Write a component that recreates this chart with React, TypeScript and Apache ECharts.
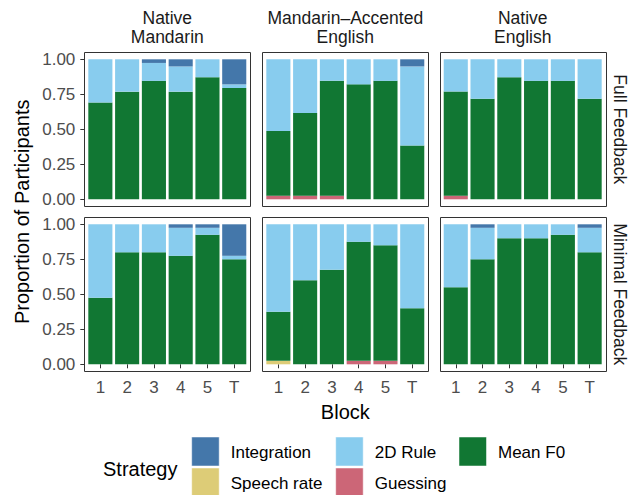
import React, { useEffect, useRef } from "react";
import * as echarts from "echarts";

const blocks = ["1", "2", "3", "4", "5", "T"];
const talkers = ["Native\nMandarin", "Mandarin\u2013Accented\nEnglish", "Native\nEnglish"];
const feedbackTypes = ["Full Feedback", "Minimal Feedback"];

// stack order from bottom to top
const strategies = ["Guessing", "Speech rate", "Mean F0", "2D Rule", "Integration"];
const strategyColors = ["#CC6677", "#DDCC77", "#117733", "#88CCEE", "#4477AA"];
// legend order (by row)
const legendOrder = ["Integration", "2D Rule", "Mean F0", "Speech rate", "Guessing"];

// Each array: [Native Mandarin, Mandarin-Accented English, Native English] x blocks
const guessingFull = [
  [0, 0, 0, 0, 0, 0],
  [0.026, 0.026, 0.026, 0, 0, 0],
  [0.026, 0, 0, 0, 0, 0],
];
const speechRateFull = [
  [0, 0, 0, 0, 0, 0],
  [0, 0, 0, 0, 0, 0],
  [0, 0, 0, 0, 0, 0],
];
const meanF0Full = [
  [0.692, 0.769, 0.846, 0.769, 0.872, 0.795],
  [0.462, 0.59, 0.821, 0.821, 0.846, 0.385],
  [0.744, 0.718, 0.872, 0.846, 0.846, 0.718],
];
const rule2DFull = [
  [0.308, 0.231, 0.128, 0.18, 0.128, 0.026],
  [0.512, 0.384, 0.153, 0.179, 0.154, 0.564],
  [0.23, 0.282, 0.128, 0.154, 0.154, 0.282],
];
const integrationFull = [
  [0, 0, 0.026, 0.051, 0, 0.179],
  [0, 0, 0, 0, 0, 0.051],
  [0, 0, 0, 0, 0, 0],
];

const guessingMinimal = [
  [0, 0, 0, 0, 0, 0],
  [0, 0, 0, 0.025, 0.025, 0],
  [0, 0, 0, 0, 0, 0],
];
const speechRateMinimal = [
  [0, 0, 0, 0, 0, 0],
  [0.025, 0, 0, 0, 0, 0],
  [0, 0, 0, 0, 0, 0],
];
const meanF0Minimal = [
  [0.475, 0.8, 0.8, 0.775, 0.925, 0.75],
  [0.35, 0.6, 0.675, 0.85, 0.825, 0.4],
  [0.55, 0.75, 0.9, 0.9, 0.925, 0.8],
];
const rule2DMinimal = [
  [0.525, 0.2, 0.2, 0.2, 0.05, 0.025],
  [0.625, 0.4, 0.325, 0.125, 0.15, 0.6],
  [0.45, 0.225, 0.1, 0.1, 0.075, 0.175],
];
const integrationMinimal = [
  [0, 0, 0, 0.025, 0.025, 0.225],
  [0, 0, 0, 0, 0, 0],
  [0, 0.025, 0, 0, 0, 0.025],
];

const dataFull = [guessingFull, speechRateFull, meanF0Full, rule2DFull, integrationFull];
const dataMinimal = [guessingMinimal, speechRateMinimal, meanF0Minimal, rule2DMinimal, integrationMinimal];

const FONT = "'Liberation Sans', Arial, Helvetica, sans-serif";

export default function App() {
  const ref = useRef<HTMLDivElement>(null);

  useEffect(() => {
    if (!ref.current) return;
    const chart = echarts.init(ref.current, null, { renderer: "svg" });

    const colLefts = [84.3, 262.3, 439.7];
    const rowTops = [52.3, 217.3];
    const panelW = 166;
    const panelH = 154;
    const unit = panelW / 6.2;
    const padX = 0.6 * unit - 0.5 * unit; // ggplot discrete expansion
    const padY = 7;

    const grids: any[] = [];
    const xAxes: any[] = [];
    const yAxes: any[] = [];
    const series: any[] = [];
    const graphics: any[] = [];

    for (let r = 0; r < 2; r++) {
      for (let c = 0; c < 3; c++) {
        const idx = r * 3 + c;
        const L = colLefts[c];
        const T = rowTops[r];
        grids.push({
          left: L + padX,
          top: T + padY,
          width: 6 * unit,
          height: panelH - 2 * padY,
          containLabel: false,
        });
        xAxes.push({
          type: "category",
          gridIndex: idx,
          data: blocks,
          boundaryGap: true,
          position: "bottom",
          offset: padY,
          axisLine: { show: false },
          axisTick: {
            show: r === 1,
            alignWithLabel: true,
            length: 4,
            lineStyle: { color: "#333333", width: 1 },
          },
          axisLabel: {
            show: r === 1,
            margin: 8,
            fontSize: 17,
            color: "#4D4D4D",
            fontFamily: FONT,
          },
          splitLine: { show: false },
        });
        yAxes.push({
          type: "value",
          gridIndex: idx,
          min: 0,
          max: 1,
          interval: 0.25,
          offset: padX,
          axisLine: { show: false },
          axisTick: {
            show: c === 0,
            length: 4,
            lineStyle: { color: "#333333", width: 1 },
          },
          axisLabel: {
            show: c === 0,
            margin: 9,
            fontSize: 17,
            color: "#4D4D4D",
            fontFamily: FONT,
            formatter: (v: number) => v.toFixed(2),
          },
          splitLine: { show: false },
        });
        const src = r === 0 ? dataFull : dataMinimal;
        strategies.forEach((s, si) => {
          series.push({
            type: "bar",
            name: s,
            xAxisIndex: idx,
            yAxisIndex: idx,
            stack: "p" + idx,
            barWidth: "90%",
            data: src[si][c],
            itemStyle: { color: strategyColors[si] },
            emphasis: { disabled: true },
          });
        });
        graphics.push({
          type: "rect",
          shape: { x: Math.round(L) + 0.5, y: Math.round(T) + 0.5, width: panelW, height: panelH },
          style: { fill: "none", stroke: "#333333", lineWidth: 1 },
          z: 100,
        });
      }
    }

    // strip titles (top)
    talkers.forEach((t, c) => {
      graphics.push({
        type: "text",
        x: colLefts[c] + panelW / 2,
        y: 27.5,
        style: {
          text: t,
          fontSize: 17.5,
          lineHeight: 19,
          fill: "#1A1A1A",
          fontFamily: FONT,
          textAlign: "center",
          textVerticalAlign: "middle",
        },
      });
    });
    // strip titles (right)
    feedbackTypes.forEach((f, r) => {
      graphics.push({
        type: "text",
        x: 620,
        y: rowTops[r] + panelH / 2,
        rotation: -Math.PI / 2,
        style: {
          text: f,
          fontSize: 17.5,
          fill: "#1A1A1A",
          fontFamily: FONT,
          textAlign: "center",
          textVerticalAlign: "middle",
        },
      });
    });
    // axis titles
    graphics.push({
      type: "text",
      x: colLefts[1] + panelW / 2,
      y: 412,
      style: {
        text: "Block",
        fontSize: 20,
        fill: "#000000",
        fontFamily: FONT,
        textAlign: "center",
        textVerticalAlign: "middle",
      },
    });
    graphics.push({
      type: "text",
      x: 22,
      y: (rowTops[0] + rowTops[1] + panelH) / 2,
      rotation: Math.PI / 2,
      style: {
        text: "Proportion of Participants",
        fontSize: 20,
        fill: "#000000",
        fontFamily: FONT,
        textAlign: "center",
        textVerticalAlign: "middle",
      },
    });

    // legend
    graphics.push({
      type: "text",
      x: 103,
      y: 469,
      style: {
        text: "Strategy",
        fontSize: 20,
        fill: "#000000",
        fontFamily: FONT,
        textAlign: "left",
        textVerticalAlign: "middle",
      },
    });
    const legColX = [191.7, 335.7, 459];
    const legRowY = [437, 468];
    legendOrder.forEach((name, i) => {
      const row = Math.floor(i / 3);
      const col = i % 3;
      const color = strategyColors[strategies.indexOf(name)];
      graphics.push({
        type: "rect",
        shape: { x: legColX[col], y: legRowY[row], width: 27.5, height: 29 },
        style: { fill: color, stroke: "#FFFFFF", lineWidth: 0.5 },
      });
      graphics.push({
        type: "text",
        x: legColX[col] + 39,
        y: legRowY[row] + 15,
        style: {
          text: name,
          fontSize: 17,
          fill: "#000000",
          fontFamily: FONT,
          textAlign: "left",
          textVerticalAlign: "middle",
        },
      });
    });

    chart.setOption({
      animation: false,
      backgroundColor: "#FFFFFF",
      grid: grids,
      xAxis: xAxes,
      yAxis: yAxes,
      series,
      graphic: graphics,
    });

    return () => chart.dispose();
  }, []);

  return (
    <div
      ref={ref}
      style={{ position: "fixed", left: 0, top: 0, width: 635, height: 495 }}
    />
  );
}
